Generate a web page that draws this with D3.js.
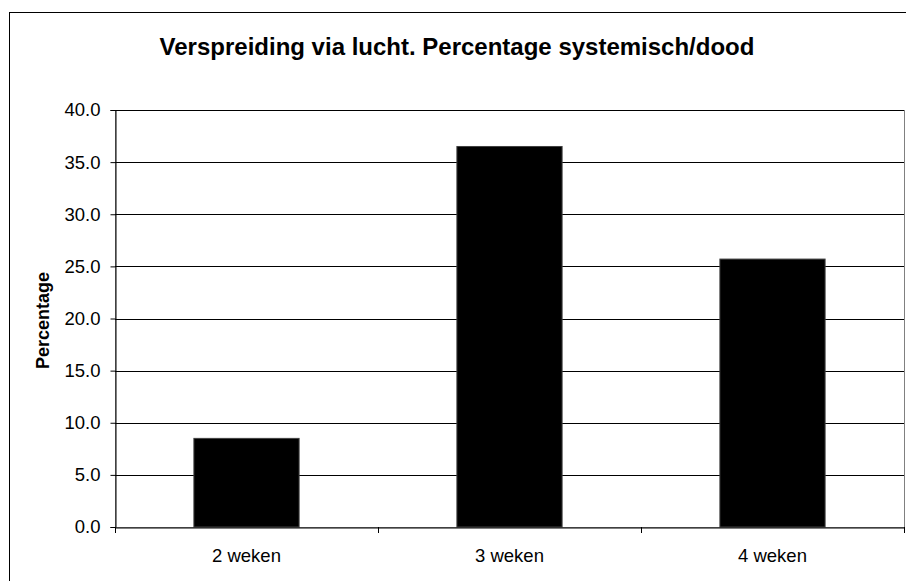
<!DOCTYPE html>
<html>
<head>
<meta charset="utf-8">
<script src="https://cdn.jsdelivr.net/npm/d3@7"></script>
<style>
  body { margin: 0; background: #fff; }
  svg { display: block; font-family: "Liberation Sans", Arial, sans-serif; }
</style>
</head>
<body>
<svg id="chart" width="906" height="581"></svg>
<script>
// Data
var categories = ['2 weken', '3 weken', '4 weken'];
var values = [8.5, 36.5, 25.7];
var yTicks = [0, 5, 10, 15, 20, 25, 30, 35, 40];

var data = categories.map((c, i) => ({ cat: c, value: values[i] }));

var svg = d3.select('#chart');

// Outer chart border (right/bottom run off the window)
svg.append('rect')
    .attr('x', 9.5).attr('y', 12.5)
    .attr('width', 910).attr('height', 600)
    .attr('fill', '#fff')
    .attr('stroke', '#000')
    .attr('stroke-width', 1);

var padding = {t: 110, r: 2, b: 54, l: 115};
var chartWidth = 906 - padding.l - padding.r;
var chartHeight = 581 - padding.t - padding.b;

var chartG = svg.append('g')
    .attr('transform', 'translate(' + [padding.l, padding.t] + ')');

var xScale = d3.scaleBand()
    .domain(categories)
    .range([0, chartWidth])
    .paddingInner(0.6)
    .paddingOuter(0.3);

var yScale = d3.scaleLinear()
    .domain([0, 40])
    .range([chartHeight, 0]);

// Plot area frame
chartG.append('rect')
    .attr('x', 0.5).attr('y', 0.5)
    .attr('width', chartWidth).attr('height', chartHeight)
    .attr('fill', 'none')
    .attr('stroke', '#808080');

// Gridlines
chartG.selectAll('.grid')
    .data(yTicks.filter(t => t > 0))
    .enter()
    .append('line')
    .attr('class', 'grid')
    .attr('x1', 0).attr('x2', chartWidth)
    .attr('y1', d => Math.round(yScale(d)) + 0.5)
    .attr('y2', d => Math.round(yScale(d)) + 0.5)
    .attr('stroke', '#000')
    .attr('stroke-width', 1);

// Bars
chartG.selectAll('.bar')
    .data(data)
    .enter()
    .append('rect')
    .attr('class', 'bar')
    .attr('x', d => xScale(d.cat))
    .attr('y', d => yScale(d.value))
    .attr('width', xScale.bandwidth())
    .attr('height', d => chartHeight - yScale(d.value))
    .attr('fill', '#000')
    .attr('stroke', '#404040')
    .attr('stroke-width', 1);

// Y axis
var yAxis = chartG.append('g')
    .attr('class', 'y axis')
    .attr('transform', 'translate(0.5,0)')
    .call(d3.axisLeft(yScale).tickValues(yTicks).tickFormat(d3.format('.1f')).tickSize(5).tickPadding(10));
yAxis.select('.domain').attr('stroke', '#000');
yAxis.selectAll('.tick line').attr('stroke', '#000');
yAxis.selectAll('text')
    .attr('font-size', '18.5px')
    .attr('font-family', '"Liberation Sans", Arial, sans-serif')
    .attr('fill', '#000');

// X axis
var xAxis = chartG.append('g')
    .attr('class', 'x axis')
    .attr('transform', 'translate(0,' + (chartHeight + 0.5) + ')')
    .call(d3.axisBottom(xScale).tickSize(0).tickPadding(21));
xAxis.select('.domain').attr('stroke', '#000');
xAxis.selectAll('text')
    .attr('font-size', '18.5px')
    .attr('font-family', '"Liberation Sans", Arial, sans-serif')
    .attr('fill', '#000');

// Category boundary ticks
var bounds = [0, 1, 2, 3].map(i => i * xScale.step());
chartG.selectAll('.xtick')
    .data(bounds)
    .enter()
    .append('line')
    .attr('class', 'xtick')
    .attr('x1', d => Math.round(d) + 0.5).attr('x2', d => Math.round(d) + 0.5)
    .attr('y1', chartHeight).attr('y2', chartHeight + 6)
    .attr('stroke', '#000');

// Title
svg.append('text')
    .attr('x', 457)
    .attr('y', 55)
    .attr('text-anchor', 'middle')
    .attr('font-size', '24px')
    .attr('font-weight', 'bold')
    .attr('fill', '#000')
    .text('Verspreiding via lucht. Percentage systemisch/dood');

// Y axis label
svg.append('text')
    .attr('transform', 'translate(49,' + (padding.t + chartHeight / 2 + 2) + ') rotate(-90)')
    .attr('text-anchor', 'middle')
    .attr('font-size', '18px')
    .attr('font-weight', 'bold')
    .attr('fill', '#000')
    .text('Percentage');
</script>
</body>
</html>
